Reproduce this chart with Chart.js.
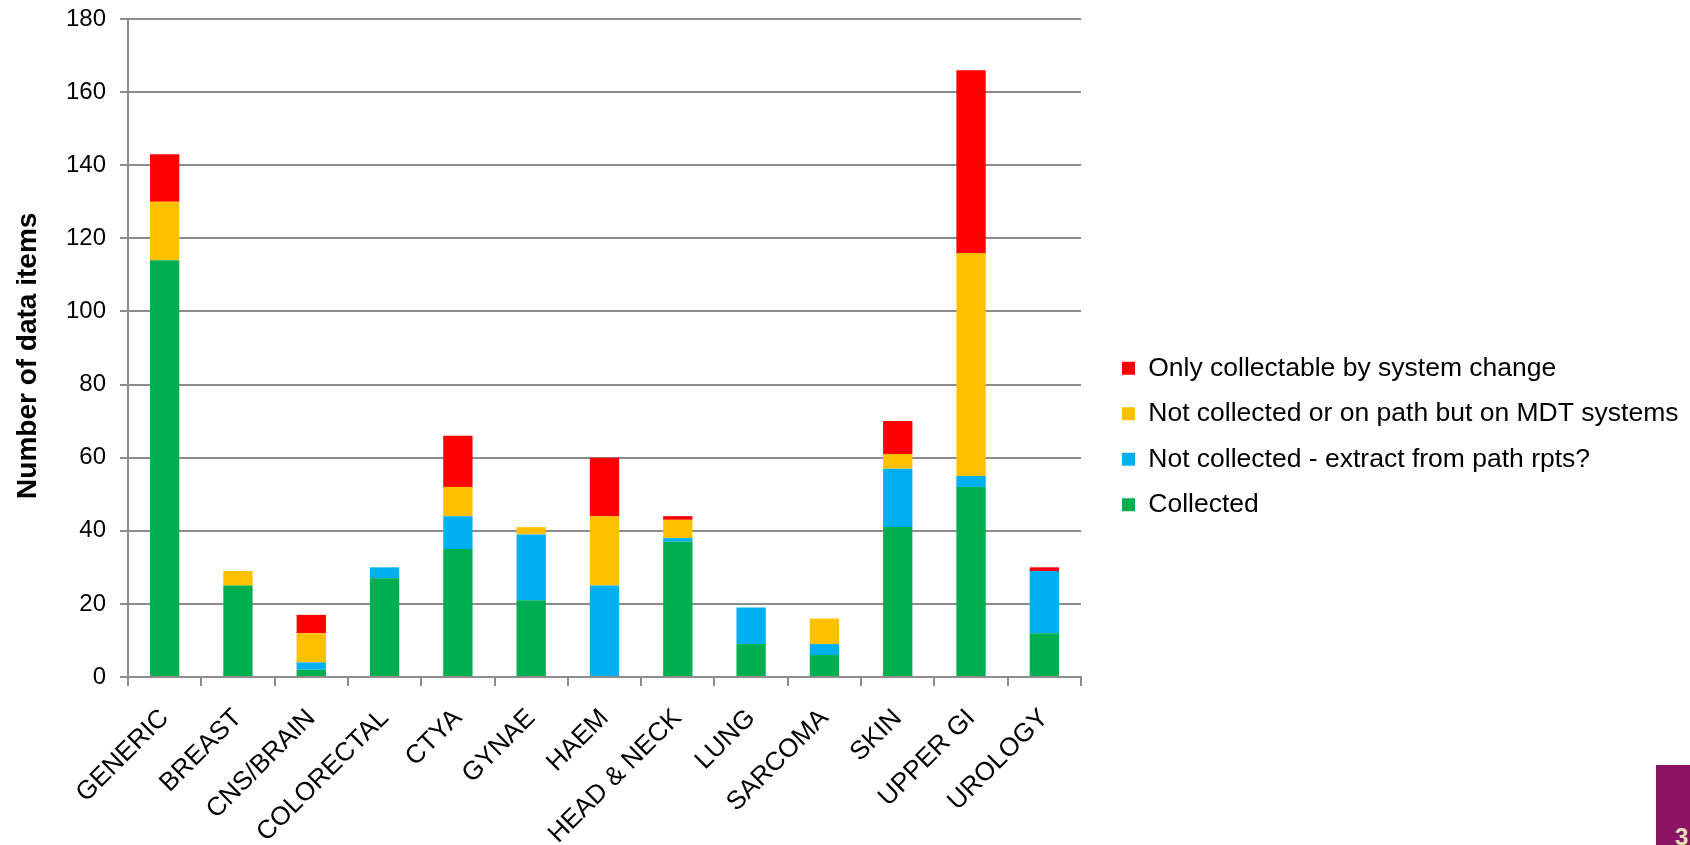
<!DOCTYPE html>
<html>
<head>
<meta charset="utf-8">
<script src="https://cdn.jsdelivr.net/npm/chart.js@4.4.1/dist/chart.umd.min.js"></script>
<style>
    html, body { margin: 0; padding: 0; background: #fff; }
    #wrap { position: relative; width: 1690px; height: 845px; overflow: hidden; }
    #corner { position: absolute; left: 1656px; top: 765px; width: 34px; height: 80px; background: #8b1464; overflow: hidden; }
    #corner span { position: absolute; left: 19px; top: 58px; color: #e3e0b8; font: bold 24px "Liberation Sans", Arial, sans-serif; }
</style>
</head>
<body>
<div id="wrap">
    <canvas id="chart" width="1690" height="845"></canvas>
    <div id="corner"><span>3</span></div>
</div>
<script>
// Data
const categories = ['GENERIC', 'BREAST', 'CNS/BRAIN', 'COLORECTAL', 'CTYA', 'GYNAE', 'HAEM',
    'HEAD & NECK', 'LUNG', 'SARCOMA', 'SKIN', 'UPPER GI', 'UROLOGY'];
const collected = [114, 25, 2, 27, 35, 21, 0, 37, 9, 6, 41, 52, 12];
const extractFromPath = [0, 0, 2, 3, 9, 18, 25, 1, 10, 3, 16, 3, 17];
const onMdtSystems = [16, 4, 8, 0, 8, 2, 19, 5, 0, 7, 4, 61, 0];
const systemChange = [13, 0, 5, 0, 14, 0, 16, 1, 0, 0, 9, 50, 1];
const yTicks = [0, 20, 40, 60, 80, 100, 120, 140, 160, 180];

const fontFamily = '"Liberation Sans", Arial, sans-serif';
const gridColor = '#8c8c8c';

// Layout of the original (in px)
const plotTop = 19;
const plotLeft = 128;
const plotRight = 1081;
const plotBottom = 677;
const legendLeft = 1103;
const legendTop = 336;

/**
 * Force the legend to take the space right of the plot,
 * then move it to where the original puts it
 */
const legendPlacement = {
    id: 'legendPlacement',
    beforeLayout(chart) {
        const legend = chart.legend;
        if (legend && !legend._patched) {
            const fit = legend.fit;
            legend.fit = function () {
                fit.call(this);
                this.width = chart.width - plotRight;
            };
            legend._patched = true;
        }
    },
    afterLayout(chart) {
        const legend = chart.legend;
        const w = legend.width;
        legend.left = legendLeft;
        legend.right = legendLeft + w;
        legend.top = legendTop;
        legend.bottom = chart.height;
    }
};

new Chart(document.getElementById('chart'), {
    type: 'bar',
    data: {
        labels: categories,
        datasets: [
            { label: 'Collected', data: collected, backgroundColor: '#00b050' },
            { label: 'Not collected - extract from path rpts?', data: extractFromPath, backgroundColor: '#00b0f0' },
            { label: 'Not collected or on path but on MDT systems', data: onMdtSystems, backgroundColor: '#ffc000' },
            { label: 'Only collectable by system change', data: systemChange, backgroundColor: '#ff0000' }
        ]
    },
    options: {
        responsive: false,
        animation: false,
        devicePixelRatio: 1,
        layout: { padding: { top: plotTop, left: 0, right: 0, bottom: 0 } },
        datasets: {
            bar: { barPercentage: 0.4, categoryPercentage: 1, borderWidth: 0 }
        },
        plugins: {
            tooltip: { enabled: false },
            legend: {
                position: 'right',
                align: 'start',
                reverse: true,
                labels: {
                    boxWidth: 13,
                    boxHeight: 13,
                    padding: 19,
                    color: '#000',
                    font: { family: fontFamily, size: 26.5 }
                }
            }
        },
        scales: {
            x: {
                stacked: true,
                afterFit: (scale) => {
                    scale.height = 845 - plotBottom;
                    scale.paddingLeft = 0;
                    scale.paddingRight = 0;
                },
                grid: {
                    display: true,
                    drawOnChartArea: false,
                    drawTicks: true,
                    tickLength: 9,
                    color: gridColor,
                    lineWidth: 2
                },
                border: { display: true, color: gridColor, width: 2 },
                ticks: {
                    autoSkip: false,
                    minRotation: 45,
                    maxRotation: 45,
                    padding: 17,
                    color: '#000',
                    font: { family: fontFamily, size: 26 }
                }
            },
            y: {
                stacked: true,
                min: 0,
                max: 180,
                afterFit: (scale) => {
                    scale.width = plotLeft;
                    scale.paddingTop = 0;
                    scale.paddingBottom = 0;
                },
                afterBuildTicks: (scale) => {
                    scale.ticks = yTicks.map((v) => ({ value: v }));
                },
                grid: {
                    color: gridColor,
                    lineWidth: 2,
                    drawTicks: true,
                    tickLength: 8
                },
                border: { display: true, color: gridColor, width: 2 },
                ticks: {
                    padding: 14,
                    color: '#000',
                    font: { family: fontFamily, size: 24 }
                },
                title: {
                    display: true,
                    // trailing spaces nudge the title down, as in the original
                    text: 'Number of data items  ',
                    color: '#000',
                    padding: { top: 11, bottom: 4 },
                    font: { family: fontFamily, size: 28, weight: 'bold' }
                }
            }
        }
    },
    plugins: [legendPlacement]
});
</script>
</body>
</html>
